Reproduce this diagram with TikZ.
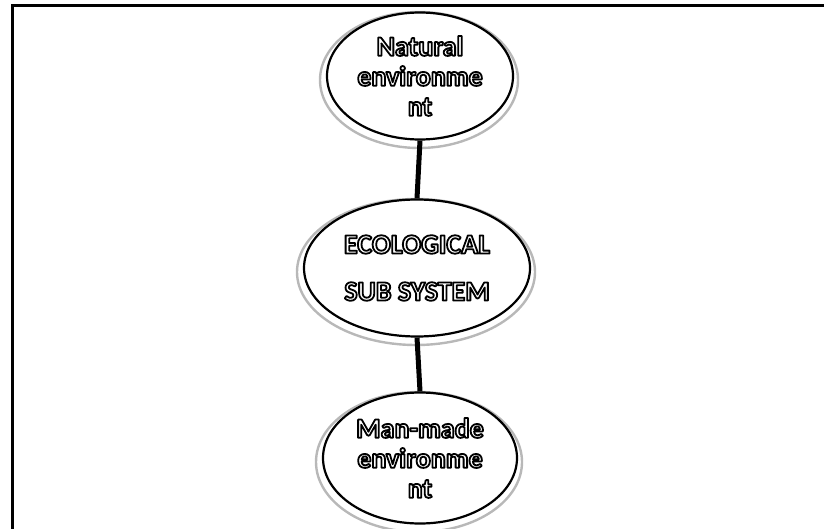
\documentclass[tikz,border=0pt]{standalone}
\usepackage{fontspec}
\setmainfont{Carlito}
\usetikzlibrary{shapes.geometric}
% white letters with a black outline: fill-and-stroke text render mode
\newcommand\outl[1]{\special{pdf:literal direct 1 g 0 G 1.8 w 1 j 2 Tr}#1\special{pdf:literal direct 0 Tr 0 g 0 G}}
\begin{document}
\begin{tikzpicture}[x=1pt,y=-1pt,
  bubble/.style={ellipse, draw=black, line width=2.2pt, align=center,
    inner sep=0pt, font=\bfseries\fontsize{28}{30}\selectfont},
  halo/.style={ellipse, draw=black!28, line width=2.4pt, inner sep=0pt},
  link/.style={line width=5pt}]
\useasboundingbox (0,0) rectangle (824,529);
% frame edges
\draw[line width=3.5pt] (12.5,529) -- (12.5,5.5) -- (824,5.5);

% soft outer rings
\node[halo, minimum width=198, minimum height=136] (h1) at (419,80) {};
\node[halo, minimum width=238, minimum height=146] (h2) at (416,272) {};
\node[halo, minimum width=206, minimum height=140] (h3) at (419,462) {};

% bubbles
\node[bubble, minimum width=186, minimum height=127] (nat) at (420,76)
  {\outl{Natural}\\\outl{environme}\\\outl{nt}};
\node[bubble, minimum width=226, minimum height=137,
  font=\bfseries\fontsize{28}{47}\selectfont] (eco) at (417,268)
  {\outl{ECOLOGICAL}\\\outl{SUB SYSTEM}};
\node[bubble, minimum width=194, minimum height=131] (man) at (420,458)
  {\outl{Man-made}\\\outl{environme}\\\outl{nt}};

% connectors
\draw[link] (nat.south) -- (eco.north);
\draw[link] (eco.south) -- (man.north);
\end{tikzpicture}
\end{document}
